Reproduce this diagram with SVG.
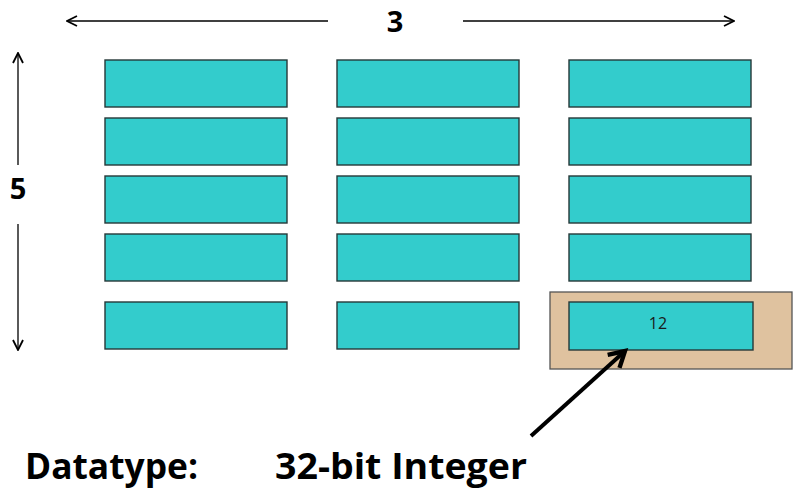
<svg xmlns="http://www.w3.org/2000/svg" width="793" height="497" viewBox="0 0 793 497">
<style>
.cell{fill:#33CCCC;stroke:#263838;stroke-width:1.4}
.thin{stroke:#000;stroke-width:1.3;fill:none}
.lbl{font-family:"Open Sans","Liberation Sans",sans-serif;font-weight:bold;fill:#000}
</style>
<defs>
<marker id="ah" viewBox="0 0 12 12" refX="11" refY="6" markerWidth="12" markerHeight="12" markerUnits="userSpaceOnUse" orient="auto">
<path d="M1,1 L11,6 L1,11" fill="none" stroke="#000" stroke-width="1.8"/>
</marker>
<marker id="ahb" viewBox="0 0 10 10" refX="8" refY="5" markerWidth="5.5" markerHeight="5.5" orient="auto">
<path d="M1,1 L8,5 L1,9" fill="none" stroke="#000" stroke-width="2"/>
</marker>
</defs>
<rect width="793" height="497" fill="#fff"/>
<g id="highlight"><rect x="550" y="292" width="242" height="77" fill="#DFC29F" stroke="#555" stroke-width="1.3"/></g>
<g id="col1">
<rect class="cell" x="105" y="60" width="182" height="47"/>
<rect class="cell" x="105" y="118" width="182" height="47"/>
<rect class="cell" x="105" y="176" width="182" height="47"/>
<rect class="cell" x="105" y="234" width="182" height="47"/>
<rect class="cell" x="105" y="302" width="182" height="47"/>
</g>
<g id="col2">
<rect class="cell" x="337" y="60" width="182" height="47"/>
<rect class="cell" x="337" y="118" width="182" height="47"/>
<rect class="cell" x="337" y="176" width="182" height="47"/>
<rect class="cell" x="337" y="234" width="182" height="47"/>
<rect class="cell" x="337" y="302" width="182" height="47"/>
</g>
<g id="col3">
<rect class="cell" x="569" y="60" width="182" height="47"/>
<rect class="cell" x="569" y="118" width="182" height="47"/>
<rect class="cell" x="569" y="176" width="182" height="47"/>
<rect class="cell" x="569" y="234" width="182" height="47"/>
</g>
<g id="cell12">
<rect class="cell" x="569" y="302" width="184" height="48"/>
<text x="658" y="329" font-family="Open Sans,Liberation Sans,sans-serif" font-size="16" fill="#1a1a1a" text-anchor="middle">12</text>
</g>
<g id="connectors">
<line class="thin" x1="328" y1="21" x2="67" y2="21" marker-end="url(#ah)"/>
<line class="thin" x1="463" y1="21" x2="734" y2="21" marker-end="url(#ah)"/>
<line class="thin" x1="18" y1="165" x2="18" y2="53" marker-end="url(#ah)"/>
<line class="thin" x1="18" y1="224" x2="18" y2="350" marker-end="url(#ah)"/>
<line x1="531" y1="436" x2="625" y2="351" stroke="#000" stroke-width="4" marker-end="url(#ahb)"/>
</g>
<g id="labels">
<text class="lbl" x="395" y="32" font-size="29" text-anchor="middle">3</text>
<text class="lbl" x="18" y="199" font-size="29" text-anchor="middle">5</text>
<text class="lbl" x="25" y="479" font-size="35" textLength="173" lengthAdjust="spacingAndGlyphs">Datatype:</text>
<text class="lbl" x="275" y="479" font-size="35" textLength="252" lengthAdjust="spacingAndGlyphs">32-bit Integer</text>
</g>
</svg>
